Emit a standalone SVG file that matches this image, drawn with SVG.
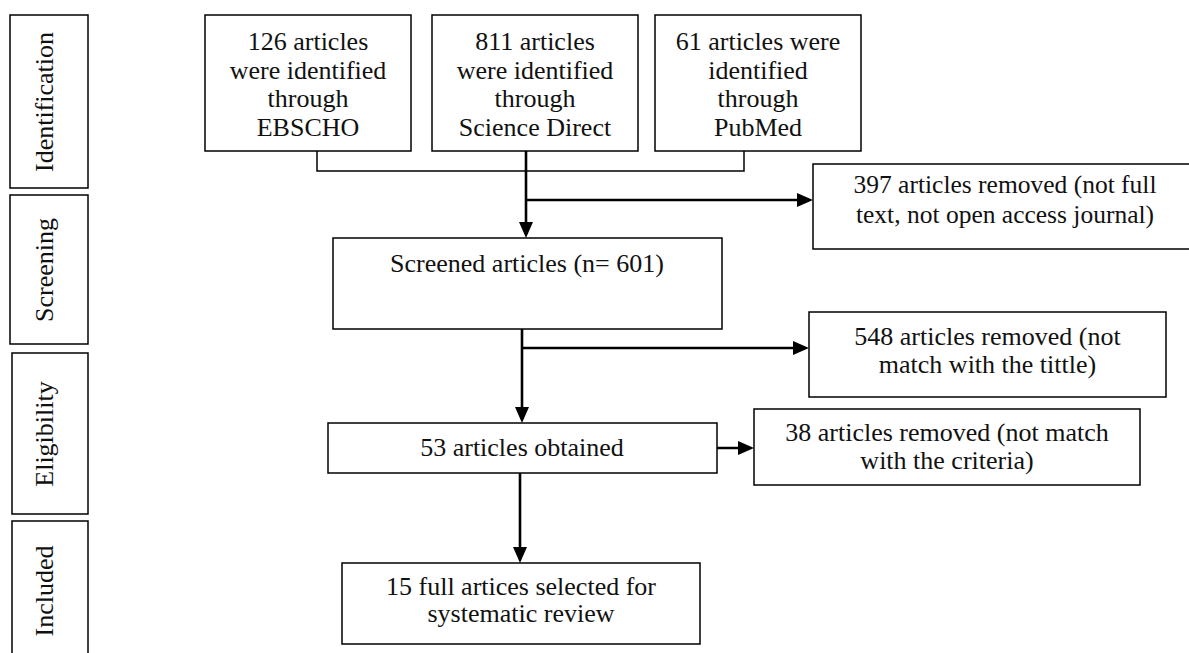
<svg xmlns="http://www.w3.org/2000/svg" width="1189" height="653" viewBox="0 0 1189 653">
<style>
.box{fill:#fff;stroke:#000;stroke-width:1.5}
.t{font-family:"Liberation Serif","Times New Roman",serif;font-size:26px;fill:#111;text-anchor:middle}
.thin{fill:none;stroke:#000;stroke-width:1.5}
.thick{fill:none;stroke:#000;stroke-width:2.6}
</style>
<defs>
<marker id="arr" viewBox="0 0 16 14" markerWidth="16" markerHeight="14" refX="12" refY="7" orient="auto" markerUnits="userSpaceOnUse">
<path d="M0,0 L16,7 L0,14 z" fill="#000"/>
</marker>
</defs>
<rect width="1189" height="653" fill="#fff"/>
<g id="phase-identification"><rect class="box" x="10" y="15" width="78" height="173"/><text class="t" transform="translate(53,102) rotate(-90)">Identification</text></g>
<g id="phase-screening"><rect class="box" x="10" y="195" width="78" height="149"/><text class="t" transform="translate(53,270) rotate(-90)">Screening</text></g>
<g id="phase-eligibility"><rect class="box" x="12" y="353" width="76" height="161"/><text class="t" transform="translate(53,434) rotate(-90)">Eligibility</text></g>
<g id="phase-included"><rect class="box" x="12" y="521" width="76" height="140"/><text class="t" transform="translate(53,591) rotate(-90)">Included</text></g>
<g id="connectors">
<polyline class="thin" points="317,151 317,171 744,171 744,151"/>
<line class="thick" x1="526" y1="151" x2="526" y2="234" marker-end="url(#arr)"/>
<line class="thick" x1="526" y1="200" x2="809" y2="200" marker-end="url(#arr)"/>
<line class="thick" x1="522" y1="329" x2="522" y2="419" marker-end="url(#arr)"/>
<line class="thick" x1="522" y1="348" x2="805" y2="348" marker-end="url(#arr)"/>
<line class="thick" x1="717" y1="448" x2="750" y2="448" marker-end="url(#arr)"/>
<line class="thick" x1="520" y1="473" x2="520" y2="559" marker-end="url(#arr)"/>
</g>
<g id="ebscho"><rect class="box" x="205" y="15" width="206" height="136"/>
<text class="t" x="308" y="50">126 articles</text><text class="t" x="308" y="78.5">were identified</text><text class="t" x="308" y="107">through</text><text class="t" x="308" y="135.5">EBSCHO</text></g>
<g id="sciencedirect"><rect class="box" x="432" y="15" width="206" height="136"/>
<text class="t" x="535" y="50">811 articles</text><text class="t" x="535" y="78.5">were identified</text><text class="t" x="535" y="107">through</text><text class="t" x="535" y="135.5">Science Direct</text></g>
<g id="pubmed"><rect class="box" x="655" y="15" width="206" height="136"/>
<text class="t" x="758" y="50">61 articles were</text><text class="t" x="758" y="78.5">identified</text><text class="t" x="758" y="107">through</text><text class="t" x="758" y="135.5">PubMed</text></g>
<g id="removed397"><rect class="box" x="813" y="164" width="385" height="85"/>
<text class="t" x="1005" y="193" style="font-size:25.5px">397 articles removed (not full</text><text class="t" x="1005" y="223" style="font-size:25.5px">text, not open access journal)</text></g>
<g id="screened"><rect class="box" x="333" y="238" width="389" height="91"/>
<text class="t" x="527" y="272">Screened articles (n= 601)</text></g>
<g id="removed548"><rect class="box" x="809" y="312" width="357" height="85"/>
<text class="t" x="987.5" y="345">548 articles removed (not</text><text class="t" x="987.5" y="373">match with the tittle)</text></g>
<g id="obtained53"><rect class="box" x="328" y="423" width="389" height="50"/>
<text class="t" x="522" y="456">53 articles obtained</text></g>
<g id="removed38"><rect class="box" x="754" y="409" width="386" height="76"/>
<text class="t" x="947" y="441">38 articles removed (not match</text><text class="t" x="947" y="469">with the criteria)</text></g>
<g id="included15"><rect class="box" x="342" y="563" width="358" height="81"/>
<text class="t" x="521" y="595">15 full artices selected for</text><text class="t" x="521" y="622">systematic review</text></g>
</svg>
